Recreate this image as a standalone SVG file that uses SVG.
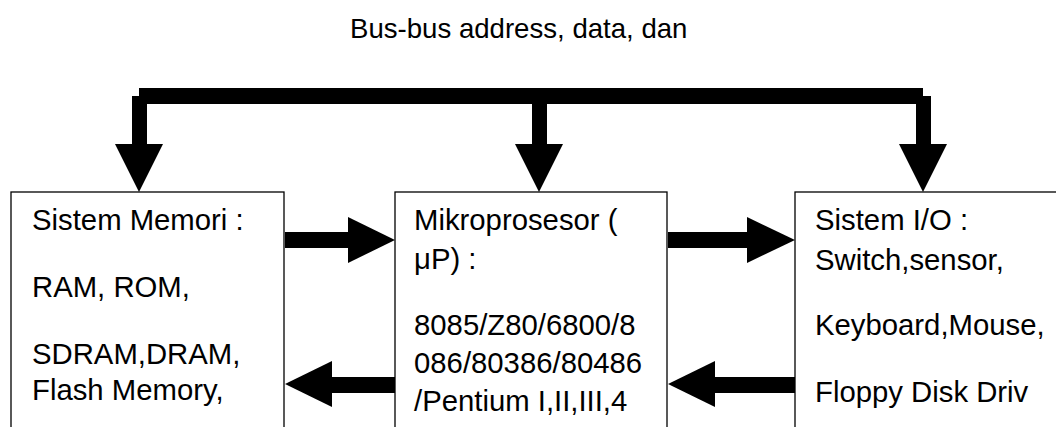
<svg xmlns="http://www.w3.org/2000/svg" width="1056" height="427" viewBox="0 0 1056 427">
  <style>
    .box { fill: #ffffff; stroke: #000000; stroke-width: 1.3; }
    .t { font-family: "Liberation Sans", Arial, sans-serif; font-size: 29.3px; fill: #000000; }
    .title { font-family: "Liberation Sans", Arial, sans-serif; font-size: 27.6px; fill: #000000; }
    .conn { fill: #000000; stroke: none; }
  </style>
  <rect x="0" y="0" width="1056" height="427" fill="#ffffff"/>
  <g id="title">
    <text class="title" x="350" y="38">Bus-bus address, data, dan</text>
  </g>
  <g id="node-memori">
    <rect class="box" x="11" y="192" width="273" height="260"/>
    <text class="t" x="32" y="230">Sistem Memori :</text>
    <text class="t" x="32" y="297">RAM, ROM,</text>
    <text class="t" x="32" y="364">SDRAM,DRAM,</text>
    <text class="t" x="32" y="400">Flash Memory,</text>
  </g>
  <g id="node-mikroprosesor">
    <rect class="box" x="395" y="192" width="272" height="260"/>
    <text class="t" x="414" y="230">Mikroprosesor (</text>
    <text class="t" x="414" y="269">μP) :</text>
    <text class="t" x="414" y="335">8085/Z80/6800/8</text>
    <text class="t" x="414" y="373">086/80386/80486</text>
    <text class="t" x="414" y="411">/Pentium I,II,III,4</text>
  </g>
  <g id="node-io">
    <rect class="box" x="795" y="192" width="300" height="260"/>
    <text class="t" x="815" y="230">Sistem I/O :</text>
    <text class="t" x="815" y="270">Switch,sensor,</text>
    <text class="t" x="815" y="335">Keyboard,Mouse,</text>
    <text class="t" x="815" y="402">Floppy Disk Driv</text>
  </g>
  <g id="connectors" class="conn">
    <!-- bus -->
    <rect x="139" y="88" width="784" height="16"/>
    <rect x="132" y="96" width="15" height="49"/>
    <polygon points="115,144 163,144 139,192"/>
    <rect x="532" y="100" width="15" height="45"/>
    <polygon points="515,144 563,144 539,192"/>
    <rect x="916" y="96" width="15" height="49"/>
    <polygon points="899,144 947,144 923,192"/>
    <!-- memori to mikroprosesor -->
    <rect x="285" y="232" width="64" height="16"/>
    <polygon points="348,217 348,263 395,240"/>
    <!-- mikroprosesor to io -->
    <rect x="668" y="232" width="80" height="16"/>
    <polygon points="747,217 747,263 795,240"/>
    <!-- mikroprosesor to memori -->
    <polygon points="285,384 332,361 332,407"/>
    <rect x="331" y="377" width="64" height="16"/>
    <!-- io to mikroprosesor -->
    <polygon points="668,384 715,361 715,407"/>
    <rect x="714" y="377" width="81" height="16"/>
  </g>
</svg>
